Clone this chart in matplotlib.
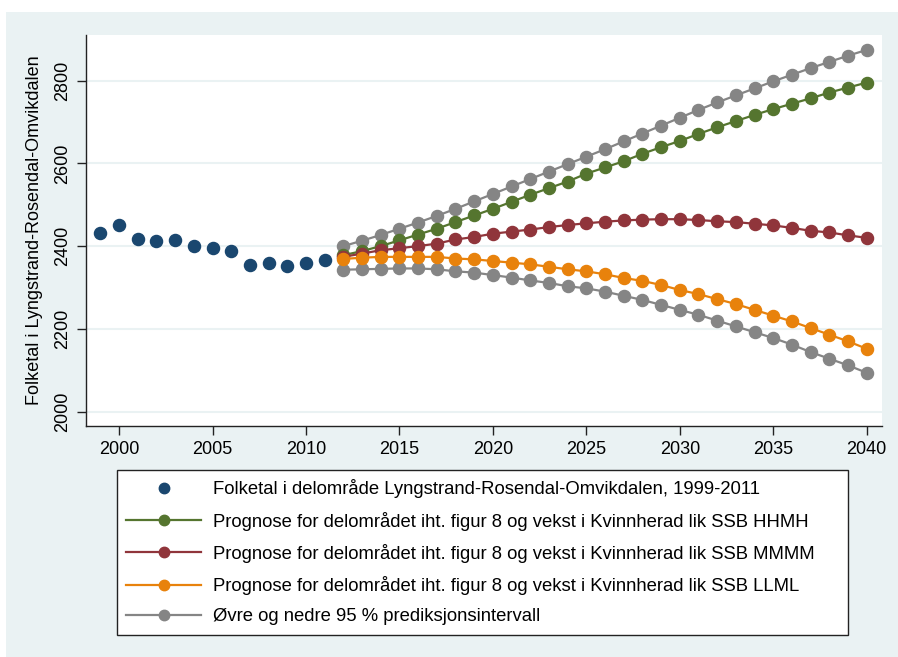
import numpy as np
import matplotlib
matplotlib.use("Agg")
import matplotlib.pyplot as plt
from matplotlib.patches import Rectangle

plt.rcParams['font.family'] = ['Liberation Sans', 'DejaVu Sans']

# historiske data
aar_hist = list(range(1999, 2012))
folketal = [2432, 2450, 2416, 2412, 2414, 2400, 2395, 2388, 2354, 2358, 2352, 2360, 2366]

# prognosar 2012-2040
aar_prog = list(range(2012, 2041))
hhmh = [2378, 2388, 2400, 2414, 2428, 2442, 2458, 2474, 2490, 2507, 2524, 2540, 2556, 2575, 2590,
        2605, 2623, 2639, 2654, 2671, 2687, 2702, 2717, 2731, 2744, 2757, 2771, 2783, 2795]
mmmm = [2374, 2382, 2390, 2395, 2400, 2406, 2416, 2422, 2430, 2435, 2440, 2446, 2451, 2455, 2459,
        2462, 2464, 2465, 2465, 2463, 2460, 2458, 2454, 2450, 2444, 2437, 2433, 2426, 2420]
llml = [2369, 2372, 2374, 2374, 2374, 2374, 2370, 2368, 2364, 2360, 2356, 2350, 2344, 2339, 2332,
        2323, 2316, 2306, 2294, 2284, 2272, 2260, 2246, 2232, 2218, 2202, 2186, 2170, 2152]
ovre = [2400, 2413, 2427, 2442, 2457, 2473, 2490, 2508, 2526, 2544, 2562, 2580, 2598, 2616, 2634,
        2653, 2672, 2691, 2710, 2729, 2747, 2764, 2781, 2798, 2814, 2830, 2845, 2860, 2874]
nedre = [2343, 2344, 2345, 2346, 2346, 2344, 2339, 2336, 2330, 2324, 2317, 2311, 2303, 2298, 2290,
         2280, 2270, 2258, 2246, 2234, 2220, 2206, 2192, 2178, 2162, 2144, 2128, 2112, 2094]

xticks = [2000, 2005, 2010, 2015, 2020, 2025, 2030, 2035, 2040]
yticks = [2000, 2200, 2400, 2600, 2800]

bg = '#EAF2F3'
navy = '#1A476F'
green = '#55752F'
maroon = '#90353B'
orange = '#E8820C'
grey = '#858585'

fig = plt.figure(figsize=(8.98, 6.57), dpi=100)
fig.patch.set_facecolor('white')
fig.patches.append(Rectangle((6 / 898, 0), 1, (657 - 12) / 657, transform=fig.transFigure,
                             facecolor=bg, edgecolor='none', zorder=-1))

ax = fig.add_axes([86 / 898, 1 - 426 / 657, (882 - 86) / 898, (426 - 35) / 657])
ax.set_zorder(1)
ax.set_facecolor('white')

ms = 8.7
lw = 1.6
ax.plot(aar_prog, ovre, color=grey, lw=lw, marker='o', ms=ms, zorder=3)
ax.plot(aar_prog, nedre, color=grey, lw=lw, marker='o', ms=ms, zorder=3)
ax.plot(aar_prog, hhmh, color=green, lw=lw, marker='o', ms=ms, zorder=4)
ax.plot(aar_prog, mmmm, color=maroon, lw=lw, marker='o', ms=ms, zorder=4)
ax.plot(aar_prog, llml, color=orange, lw=lw, marker='o', ms=ms, zorder=5)
ax.plot(aar_hist, folketal, color=navy, lw=0, marker='o', ms=ms, zorder=5)

ax.set_xlim(1998.23, 2040.82)
ax.set_ylim(1965.4, 2910)
ax.set_xticks(xticks)
ax.set_yticks(yticks)
ax.grid(axis='y', color=bg, lw=1.5)
ax.set_axisbelow(True)
for s in ['top', 'right']:
    ax.spines[s].set_visible(False)
for s in ['left', 'bottom']:
    ax.spines[s].set_color('#222222')
    ax.spines[s].set_linewidth(1.0)
ax.tick_params(axis='both', length=6.5, width=1.0, color='#222222', labelsize=13, pad=4)
for lab in ax.get_yticklabels():
    lab.set_rotation(90)
    lab.set_va('center')
ax.set_ylabel('Folketal i Lyngstrand-Rosendal-Omvikdalen', fontsize=13, labelpad=8)

h_hist, = ax.plot([], [], color=navy, lw=0, marker='o', ms=7.5)
h_g, = ax.plot([], [], color=green, lw=lw, marker='o', ms=7.5)
h_m, = ax.plot([], [], color=maroon, lw=lw, marker='o', ms=7.5)
h_o, = ax.plot([], [], color=orange, lw=lw, marker='o', ms=7.5)
h_gr, = ax.plot([], [], color=grey, lw=lw, marker='o', ms=7.5)
labels = ['Folketal i delområde Lyngstrand-Rosendal-Omvikdalen, 1999-2011',
          'Prognose for delområdet iht. figur 8 og vekst i Kvinnherad lik SSB HHMH',
          'Prognose for delområdet iht. figur 8 og vekst i Kvinnherad lik SSB MMMM',
          'Prognose for delområdet iht. figur 8 og vekst i Kvinnherad lik SSB LLML',
          'Øvre og nedre 95 % prediksjonsintervall']
leg = fig.legend([h_hist, h_g, h_m, h_o, h_gr], labels,
                 loc='upper left', mode='expand',
                 bbox_to_anchor=(117 / 898, 1 - 634 / 657, (848 - 117) / 898, 164 / 657),
                 fontsize=13.3, frameon=True, fancybox=False, shadow=False,
                 handlelength=4.05, handletextpad=0.65, labelspacing=0.72,
                 borderpad=0.5, borderaxespad=0)
leg.get_frame().set_edgecolor('#222222')
leg.get_frame().set_linewidth(1.0)
leg.get_frame().set_facecolor('white')
leg.get_frame().set_alpha(1)

fig.savefig('out.png', dpi=100)
